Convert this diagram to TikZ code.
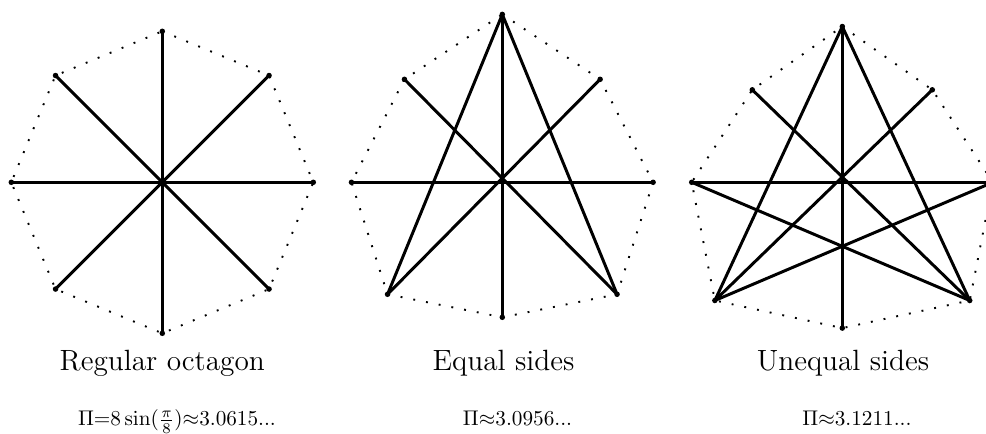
\documentclass[tikz,border=0pt]{standalone}
\usepackage{tikz}

\begin{document}
\begin{tikzpicture}[
    point/.style={circle, fill=black, minimum size=2.6pt, inner sep=0pt},
    diam/.style={line width=1.4pt},
    side/.style={line width=0.9pt, dash pattern=on 0.9pt off 5.2pt},
    caption/.style={anchor=base, font=\fontsize{13.8}{16}\selectfont},
    value/.style={anchor=base, font=\fontsize{10}{12}\selectfont}
]
\useasboundingbox (-2.687,-4.167) rectangle (13.637,3.018);

% Octogono regular
\coordinate (o1) at (0,0);
\foreach \i/\a in {1/90,2/45,3/0,4/-45,5/-90,6/-135,7/180,8/135}
    \coordinate (a\i) at (\a:2.5);

% Lados iguales
\begin{scope}[shift={(5.629,0)}]
\coordinate (o2) at (0,0);
\coordinate (b1) at (0,2.78);
\coordinate (b2) at (1.62,1.705);
\coordinate (b3) at (2.497,0);
\coordinate (b4) at (1.90,-1.854);
\coordinate (b5) at (0,-2.235);
\coordinate (b6) at (-1.90,-1.854);
\coordinate (b7) at (-2.497,0);
\coordinate (b8) at (-1.62,1.705);
\end{scope}

% Lados desiguales
\begin{scope}[shift={(11.258,0)}]
\coordinate (o3) at (0,0);
\coordinate (c1) at (0,2.579);
\coordinate (c2) at (1.49,1.531);
\coordinate (c3) at (2.493,0);
\coordinate (c4) at (2.11,-1.957);
\coordinate (c5) at (0,-2.414);
\coordinate (c6) at (-2.11,-1.957);
\coordinate (c7) at (-2.493,0);
\coordinate (c8) at (-1.49,1.531);
\end{scope}

% Lados punteados
\foreach \p in {a,b,c} {
    \draw[side] (\p1) -- (\p2) -- (\p3) -- (\p4) -- (\p5) -- (\p6) -- (\p7) -- (\p8) -- cycle;
}

% Diametros
\foreach \p in {a,b,c} {
    \foreach \s/\e in {1/5,2/6,3/7,4/8} {
        \draw[diam] (\p\s) -- (\p\e);
    }
}
\draw[diam] (b1) -- (b6);
\draw[diam] (b1) -- (b4);
\draw[diam] (c1) -- (c6);
\draw[diam] (c1) -- (c4);
\draw[diam] (c7) -- (c4);
\draw[diam] (c3) -- (c6);

% Vertices
\foreach \p in {a,b,c} {
    \foreach \i in {1,...,8} {
        \node[point] (p\p\i) at (\p\i) {};
    }
}

% Etiquetas
\node[caption] (t1) at (0,-3.124) {Regular octagon};
\node[caption] (t2) at (5.65,-3.124) {Equal sides};
\node[caption] (t3) at (11.27,-3.124) {Unequal sides};

\node[value] (v1) at (0.243,-4.03) {$\Pi{=}8\sin(\frac{\pi}{8}){\approx}3.0615...$};
\node[value] (v2) at (5.881,-4.03) {$\Pi{\approx}3.0956...$};
\node[value] (v3) at (11.50,-4.03) {$\Pi{\approx}3.1211...$};

\end{tikzpicture}
\end{document}
